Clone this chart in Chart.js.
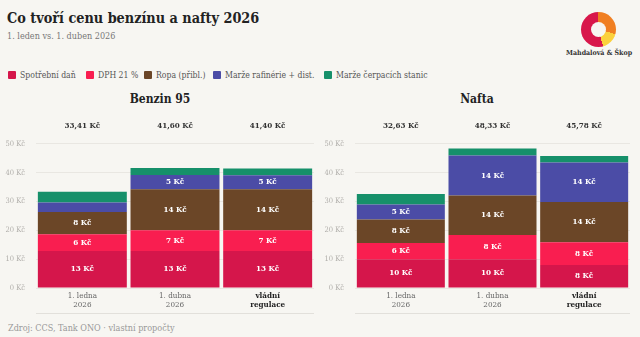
<!DOCTYPE html>
<html lang="cs">
<head>
<meta charset="utf-8">
<script src="https://cdn.jsdelivr.net/npm/chart.js@4/dist/chart.umd.min.js"></script>
<style>
  html, body { margin:0; padding:0; }
  body { width:640px; height:337px; background:#f7f6f2; position:relative; overflow:hidden;
         font-family:'DejaVu Serif Condensed','DejaVu Serif',serif; color:#222; }
  .abs { position:absolute; white-space:nowrap; }
  #titulek { left:7px; top:10px; font-size:14.3px; font-weight:bold; color:#222; }
  #podtitulek { left:7px; top:31px; font-size:9px; color:#777; }
  .leg { position:absolute; top:70px; font-size:8.6px; color:#555; white-space:nowrap; }
  .leg i { display:inline-block; width:8px; height:8px; margin-right:4px; vertical-align:-1px; border-radius:1px; }
  .panel { position:absolute; top:92px; font-size:12px; font-weight:bold; color:#222; text-align:center; }
  #logo { left:581px; top:12px; width:35px; height:35px; border-radius:50%;
          background:conic-gradient(#f07f22 0deg 105deg, #fbd13d 105deg 165deg, #d8174b 165deg 360deg); }
  #logo:after { content:''; position:absolute; left:10px; top:10px; width:15px; height:15px; border-radius:50%; background:#f7f6f2; }
  #logotext { left:566px; top:48px; font-size:7px; font-weight:bold; color:#333; }
  #zdroj { left:8px; top:323px; font-size:9px; color:#999; }
  canvas { position:absolute; }
</style>
</head>
<body>
<div id="titulek" class="abs">Co tvoří cenu benzínu a nafty 2026</div>
<div id="podtitulek" class="abs">1. leden vs. 1. duben 2026</div>
<div id="logo" class="abs"></div>
<div id="logotext" class="abs">Mahdalová &amp; Škop</div>
<div id="legenda"></div>
<div class="panel" style="left:0;width:320px">Benzin 95</div>
<div class="panel" style="left:320px;width:314px">Nafta</div>
<canvas id="benzin" width="320" height="230" style="left:0;top:90px;width:320px;height:230px"></canvas>
<canvas id="nafta" width="320" height="230" style="left:320px;top:90px;width:320px;height:230px"></canvas>
<div id="zdroj" class="abs">Zdroj: CCS, Tank ONO · vlastní propočty</div>
<script>
// data odhadnuta z obrazku (Kč za litr)
var kategorie = [['1. ledna','2026'],['1. dubna','2026'],['vládní','regulace']];
var serie = ['Spotřební daň','DPH 21 %','Ropa (přibl.)','Marže rafinérie + dist.','Marže čerpacích stanic'];
var barvy = ['#d5164b','#f91e50','#6b4627','#4b4ca6','#16906a'];

var benzinSpotrebni = [12.84, 12.84, 12.84];
var benzinDph = [5.80, 7.22, 7.19];
var benzinRopa = [7.7, 14.2, 14.2];
var benzinRafinerie = [3.3, 4.9, 4.9];
var benzinCerpaci = [3.77, 2.44, 2.27];
var benzinCelkem = [33.41, 41.60, 41.40];

var naftaSpotrebni = [9.95, 9.95, 7.95];
var naftaDph = [5.66, 8.39, 7.95];
var naftaRopa = [8.1, 13.7, 13.9];
var naftaRafinerie = [5.2, 13.9, 13.7];
var naftaCerpaci = [3.72, 2.39, 2.28];
var naftaCelkem = [32.63, 48.33, 45.78];

var osaY = [0, 10, 20, 30, 40, 50];

var FONT = "'DejaVu Serif Condensed','DejaVu Serif',serif";

// legenda
var legLeft = [8, 86, 144, 213, 324];
var leg = document.getElementById('legenda');
serie.forEach(function(s, i){
  leg.innerHTML += "<div class='leg' style='left:"+legLeft[i]+"px'><i style='background:"+barvy[i]+"'></i>"+s+"</div>";
});

function kc(v){ return v.toFixed(2).replace('.', ',') + ' Kč'; }

// popisky v segmentech, soucty nahore a cara pod osou
var popisky = {
  id: 'popisky',
  afterDatasetsDraw: function(chart){
    var ctx = chart.ctx, area = chart.chartArea;
    ctx.save();
    ctx.textAlign = 'center';
    ctx.textBaseline = 'middle';
    ctx.font = 'bold 8px ' + FONT;
    ctx.fillStyle = '#ffffff';
    chart.data.datasets.forEach(function(ds, di){
      var meta = chart.getDatasetMeta(di);
      meta.data.forEach(function(bar, i){
        var v = ds.data[i];
        if (v < 4.5) return;
        var p = bar.getProps(['x','y','base'], true);
        ctx.fillText(Math.round(v) + ' Kč', p.x, (p.y + p.base) / 2);
      });
    });
    ctx.fillStyle = '#333';
    var xs = chart.scales.x;
    chart.options.plugins.popisky.celkem.forEach(function(t, i){
      ctx.fillText(kc(t), xs.getPixelForValue(i), area.top - 12);
    });
    ctx.strokeStyle = '#e2e0db';
    ctx.lineWidth = 1;
    ctx.beginPath();
    ctx.moveTo(area.left, area.bottom + 25.5);
    ctx.lineTo(area.right, area.bottom + 25.5);
    ctx.stroke();
    ctx.restore();
  }
};

function graf(id, hodnoty, celkem, sirkaY, pravo){
  var datasets = hodnoty.map(function(h, i){
    return { label: serie[i], data: h, backgroundColor: barvy[i], borderWidth: 0,
             categoryPercentage: 1, barPercentage: 0.96 };
  });
  return new Chart(document.getElementById(id), {
    type: 'bar',
    data: { labels: kategorie, datasets: datasets },
    plugins: [popisky],
    options: {
      responsive: false,
      animation: false,
      layout: { padding: { top: 48, right: pravo, left: 0, bottom: 0 } },
      plugins: {
        legend: { display: false },
        tooltip: { enabled: false },
        popisky: { celkem: celkem }
      },
      scales: {
        x: {
          stacked: true,
          grid: { display: false, drawTicks: false },
          border: { display: false },
          ticks: {
            padding: 3,
            color: function(c){ return c.index === 2 ? '#222' : '#666'; },
            font: function(c){ return { family: FONT, size: 8, lineHeight: 1.15, weight: c.index === 2 ? 'bold' : 'normal' }; }
          },
          afterFit: function(s){ s.height = 32; }
        },
        y: {
          stacked: true,
          min: 0, max: 52,
          afterBuildTicks: function(s){ s.ticks = osaY.map(function(v){ return { value: v }; }); },
          grid: { color: '#e9e7e2', drawTicks: false },
          border: { display: false },
          ticks: {
            padding: 11,
            color: '#b0aeaa',
            font: { family: FONT, size: 7.5 },
            callback: function(v){ return v + ' Kč'; }
          },
          afterFit: function(s){ s.width = sirkaY; }
        }
      }
    }
  });
}

graf('benzin', [benzinSpotrebni, benzinDph, benzinRopa, benzinRafinerie, benzinCerpaci], benzinCelkem, 36, 6);
graf('nafta', [naftaSpotrebni, naftaDph, naftaRopa, naftaRafinerie, naftaCerpaci], naftaCelkem, 35, 10);
</script>
</body>
</html>
